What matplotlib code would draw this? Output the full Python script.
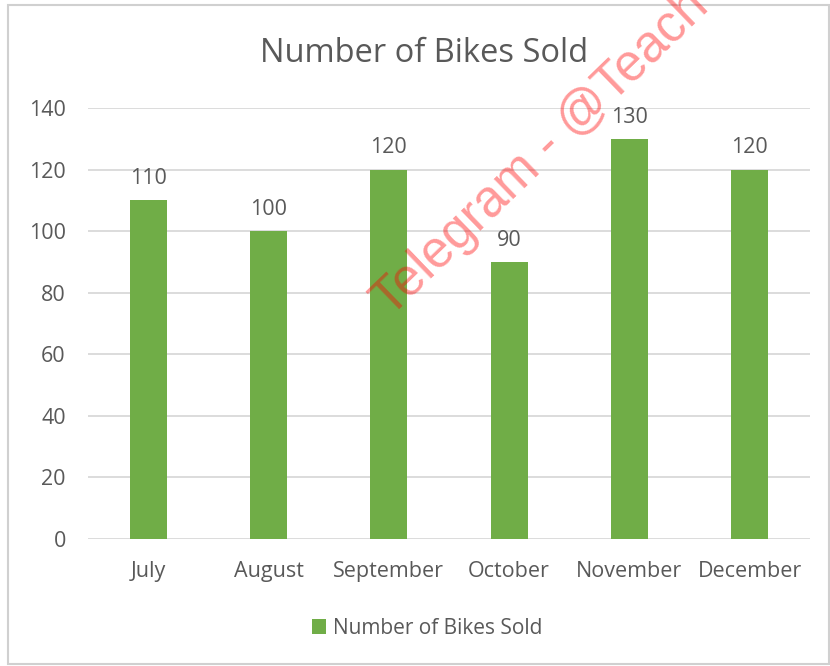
import matplotlib.pyplot as plt
from matplotlib.patches import Rectangle

months = ["July", "August", "September", "October", "November", "December"]
bikes_sold = [110, 100, 120, 90, 130, 120]
y_ticks = [0, 20, 40, 60, 80, 100, 120, 140]
title = "Number of Bikes Sold"
series_name = "Number of Bikes Sold"
watermark = "Telegram - @Teach"

plt.rcParams['font.family'] = ['Open Sans', 'DejaVu Sans']
txt = "#595959"

fig = plt.figure(figsize=(8.3, 6.66), dpi=100)
ax = fig.add_axes([88/830, 1-539/666, 722/830, 431/666])

x = range(len(months))
ax.bar(x, bikes_sold, width=0.31, color="#70ad47", label=series_name, zorder=3)
for xi, v in zip(x, bikes_sold):
    ax.annotate(str(v), (xi, v), xytext=(0, 8), textcoords="offset points",
                ha="center", va="bottom", fontsize=15.5, color=txt, zorder=4)

ax.set_xlim(-0.5, len(months)-0.5)
ax.set_ylim(0, 140)
ax.set_yticks(y_ticks)
ax.set_xticks(list(x))
ax.set_xticklabels(months)
ax.tick_params(axis='both', length=0, labelsize=15.5, colors=txt)
ax.tick_params(axis='y', pad=16)
ax.tick_params(axis='x', pad=16)
ax.grid(axis='y', color="#d9d9d9", linewidth=1.3, zorder=0)
for s in ax.spines.values():
    s.set_visible(False)

fig.text(424/830, 1-54/666, title, ha="center", va="center", fontsize=23.5, color=txt)

fig.legend(loc="center", bbox_to_anchor=(427/830, 1-628/666), frameon=False,
           fontsize=15, labelcolor=txt, handlelength=0.7, handleheight=0.7,
           handletextpad=0.3)

fig.patches.append(Rectangle((8/830, 2/666), 821/830, 659/666, transform=fig.transFigure,
                             fill=False, edgecolor="#d0d0d0", linewidth=1.5))

fig.text(390/830, 1-318/666, watermark, rotation=44, rotation_mode="anchor",
         ha="left", va="baseline", fontsize=37, color="#ff0000", alpha=0.4,
         family=["Liberation Sans", "DejaVu Sans"], zorder=10)

fig.savefig("out.png", dpi=100)
